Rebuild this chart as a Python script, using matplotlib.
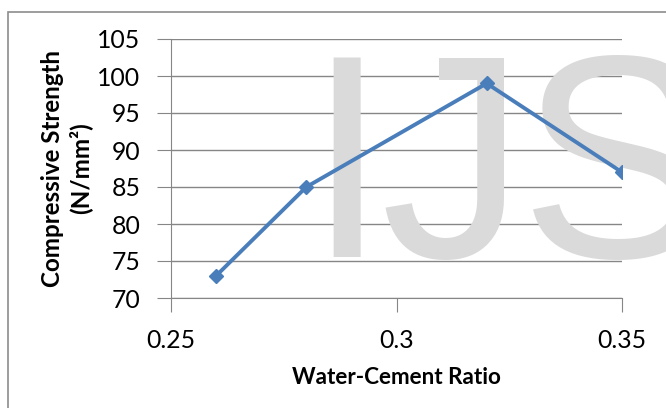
import matplotlib.pyplot as plt
from matplotlib.patches import Rectangle

# water-cement ratio vs compressive strength
ratio = [0.26, 0.28, 0.32, 0.35]
strength = [73, 85, 99, 87]
xticks = [0.25, 0.3, 0.35]
xtick_labels = ["0.25", "0.3", "0.35"]
yticks = [70, 75, 80, 85, 90, 95, 100, 105]

plt.rcParams['font.family'] = ['Lato', 'DejaVu Sans']
grey = '#868686'

fig = plt.figure(figsize=(6.66, 4.08), dpi=100)
ax = fig.add_axes([171/666, 1 - 298/408, (622 - 171)/666, (298 - 39)/408])
ax.patch.set_alpha(0)

# outer chart frame
fig.patches.append(Rectangle((8/666, -0.1), 1.2, 1 - 12/408 + 0.1,
                             transform=fig.transFigure, fill=False,
                             edgecolor='#8c8c8c', linewidth=1.2))

ax.plot(ratio, strength, color='#4a7ebb', linewidth=2.8, marker='D',
        markersize=7.5, zorder=3)

ax.set_xlim(0.25, 0.35)
ax.set_ylim(70, 105)
ax.set_xticks(xticks)
ax.set_xticklabels(xtick_labels)
ax.set_yticks(yticks)
ax.grid(axis='y', color=grey, linewidth=1)
ax.set_axisbelow(True)
for side in ['top', 'right']:
    ax.spines[side].set_visible(False)
for side in ['left', 'bottom']:
    ax.spines[side].set_color(grey)
ax.tick_params(direction='out', length=10, color=grey, labelsize=17.8)
ax.tick_params(axis='y', pad=12)
ax.tick_params(axis='x', pad=12)

ax.set_xlabel("Water-Cement Ratio", fontsize=16.2, fontweight='bold',
              labelpad=11)
ax.set_ylabel("Compressive Strength\n(N/mm²)", fontsize=17.4,
              fontweight='bold', labelpad=4, linespacing=1.2)

# IJS watermark, opaque, between the grid and the data line
wm = dict(family='Liberation Sans', fontsize=208, color='#dadada',
          ha='left', va='baseline', transform=fig.transFigure,
          clip_on=False, zorder=2)
base = 1 - 257/408
ax.text(306/666, base, "I", **wm)
ax.text(380/666, base, "J", **wm)
ax.text(520/666, base, "S", **wm)

fig.savefig("out.png", dpi=100)
